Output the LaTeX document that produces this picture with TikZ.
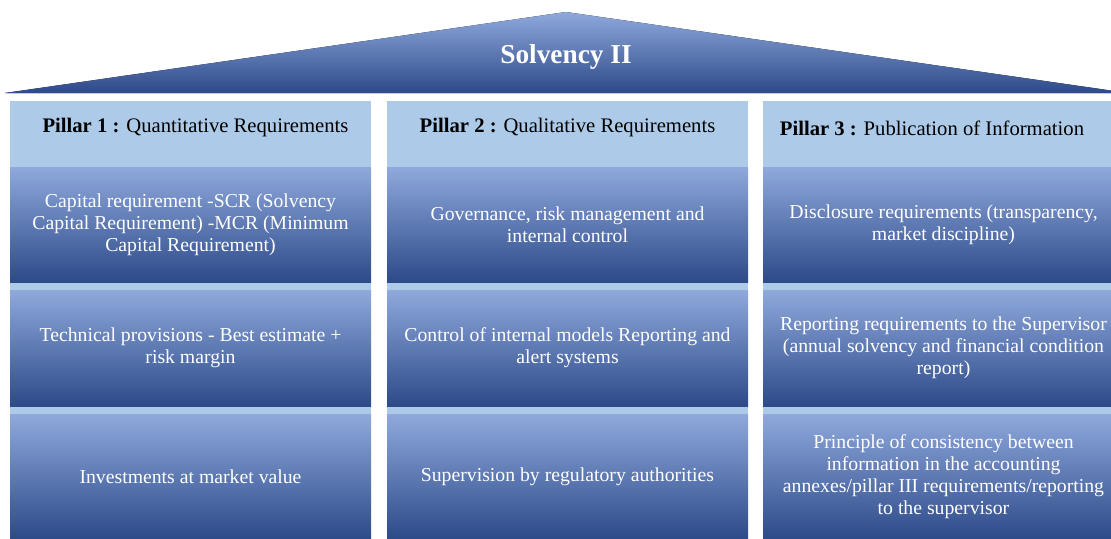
\documentclass[tikz,border=0pt]{standalone}
\usepackage{fontspec}
\setmainfont{Liberation Serif}
\usepackage{xcolor}
\usetikzlibrary{positioning}

\definecolor{headblue}{HTML}{ADCBE8}
\definecolor{gradtop}{HTML}{8FA9DC}
\definecolor{gradmid}{HTML}{4876CC}
\definecolor{gradbot}{HTML}{2D4A89}

\tikzset{
  pillarbg/.style={fill=headblue, minimum width=270.75pt, minimum height=328.5pt, inner sep=0pt},
  pillarhead/.style={text=black, font=\fontsize{15.5}{18}\selectfont},
  cellbox/.style={top color=gradtop, middle color=gradmid, bottom color=gradbot,
    minimum width=270.75pt, inner sep=0pt, align=center, text=white,
    font=\fontsize{14.8}{16.5}\selectfont},
}

\begin{document}
\begin{tikzpicture}[x=0.75pt, y=-0.75pt]
\useasboundingbox (0,0) rectangle (1111,539);
\clip (0,0) rectangle (1111,539);

% roof
\fill[top color=gradtop, middle color=gradmid, bottom color=gradbot]
  (5,93) -- (566,12) -- (1128,93) -- cycle;
\node[text=white, font=\fontsize{20.5}{22}\selectfont\bfseries] (roof) at (566,57) {Solvency II};

% pillar backgrounds
\node[pillarbg] (col1) at (190.5,320) {};
\node[pillarbg] (col2) at (567.5,320) {};
\node[pillarbg] (col3) at (943.5,320) {};

% pillar headings
\node[pillarhead] (h1) at (195.5,128) {\textbf{Pillar 1 :} Quantitative Requirements};
\node[pillarhead] (h2) at (567.5,128) {\textbf{Pillar 2 :} Qualitative Requirements};
\node[pillarhead] (h3) at (932,128) {\textbf{Pillar 3 :} Publication of Information};

% Pillar 1 boxes
\node[cellbox, minimum height=86.25pt] (p1a) at (190.5,224.5)
  {Capital requirement -SCR (Solvency\\ Capital Requirement) -MCR (Minimum\\ Capital Requirement)};
\node[cellbox, minimum height=87pt] (p1b) at (190.5,348)
  {Technical provisions - Best estimate +\\ risk margin};
\node[cellbox, minimum height=93.75pt] (p1c) at (190.5,476.5)
  {Investments at market value};

% Pillar 2 boxes
\node[cellbox, minimum height=86.25pt] (p2a) at (567.5,224.5)
  {Governance, risk management and\\ internal control};
\node[cellbox, minimum height=87pt] (p2b) at (567.5,348)
  {Control of internal models Reporting and\\ alert systems};
\node[cellbox, minimum height=93.75pt] (p2c) at (567.5,476.5)
  {Supervision by regulatory authorities};

% Pillar 3 boxes
\node[cellbox, minimum height=86.25pt] (p3a) at (943.5,224.5)
  {Disclosure requirements (transparency,\\ market discipline)};
\node[cellbox, minimum height=87pt] (p3b) at (943.5,348)
  {Reporting requirements to the Supervisor\\ (annual solvency and financial condition\\ report)};
\node[cellbox, minimum height=93.75pt] (p3c) at (943.5,476.5)
  {Principle of consistency between\\ information in the accounting\\ annexes/pillar III requirements/reporting\\ to the supervisor};
\end{tikzpicture}
\end{document}
